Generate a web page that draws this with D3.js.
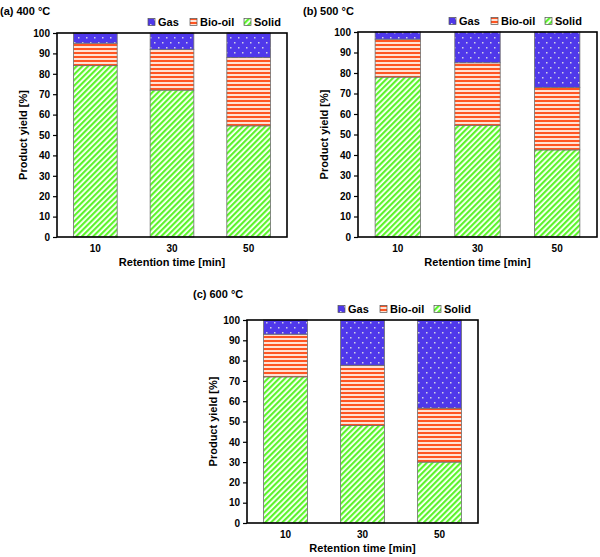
<!DOCTYPE html>
<html><head><meta charset="utf-8">
<script src="https://cdn.jsdelivr.net/npm/d3@7"></script>
<style>body{margin:0;background:#fff}svg{display:block}svg text{font-family:"Liberation Sans",Arial,sans-serif !important;font-weight:700 !important;fill:#000}</style>
</head><body>
<svg id="c" width="600" height="557"></svg>
<script>
const categories = ["10", "30", "50"];
const seriesNames = ["Solid", "Bio-oil", "Gas"];
const panelTitles = ["(a) 400 °C", "(b) 500 °C", "(c) 600 °C"];
// values per panel [Solid, Bio-oil, Gas] per retention time
const solid400 = [84, 72, 54.5];
const bio400 = [11, 20, 33.5];
const gas400 = [5, 8, 12.5];
const solid500 = [78, 54.5, 42.5];
const bio500 = [18.5, 30.5, 30.5];
const gas500 = [3.5, 15, 27];
const solid600 = [72, 48, 30];
const bio600 = [21, 29.7, 26.6];
const gas600 = [7, 22.3, 43.4];
const yTicks = [0,10,20,30,40,50,60,70,80,90,100];

const svg = d3.select("#c");
const defs = svg.append("defs");
const pS = defs.append("pattern").attr("id","pSolid").attr("patternUnits","userSpaceOnUse")
  .attr("width",4).attr("height",4).attr("patternTransform","rotate(45)");
pS.append("rect").attr("width",4).attr("height",4).attr("fill","#ffffff");
pS.append("rect").attr("width",2.2).attr("height",4).attr("fill","#5cf52a");
const pB = defs.append("pattern").attr("id","pBio").attr("patternUnits","userSpaceOnUse")
  .attr("width",4).attr("height",4);
pB.append("rect").attr("width",4).attr("height",4).attr("fill","#ffe2d4");
pB.append("rect").attr("width",4).attr("height",2).attr("fill","#ff5522");
const pG = defs.append("pattern").attr("id","pGas").attr("patternUnits","userSpaceOnUse")
  .attr("width",8).attr("height",10);
pG.append("rect").attr("width",8).attr("height",10).attr("fill","#4f38ea");
pG.append("rect").attr("x",2).attr("y",2).attr("width",1.5).attr("height",1.5).attr("fill","#d0d0e4");
pG.append("rect").attr("x",6).attr("y",7).attr("width",1.5).attr("height",1.5).attr("fill","#d0d0e4");
const fills = {"Solid":"url(#pSolid)","Bio-oil":"url(#pBio)","Gas":"url(#pGas)"};

const panels = [
  {title: panelTitles[0], tx: 0, ty: 15, x0: 57, x1: 287, y0: 33, y1: 237, data: [solid400, bio400, gas400]},
  {title: panelTitles[1], tx: 303, ty: 15, x0: 358, x1: 597, y0: 32, y1: 237, data: [solid500, bio500, gas500]},
  {title: panelTitles[2], tx: 193, ty: 298, x0: 247, x1: 478, y0: 320, y1: 523, data: [solid600, bio600, gas600]}
];

panels.forEach(p => {
  const g = svg.append("g");
  const x = d3.scaleBand().domain(categories).range([p.x0, p.x1]).paddingInner(0.43).paddingOuter(0.215);
  const y = d3.scaleLinear().domain([0,100]).range([p.y1, p.y0]);
  const rows = categories.map((c,i) => {
    const o = {cat: c};
    seriesNames.forEach((s,j) => o[s] = p.data[j][i]);
    return o;
  });
  const stack = d3.stack().keys(seriesNames)(rows);
  stack.forEach(layer => {
    g.append("g").selectAll("rect").data(layer).join("rect")
      .attr("x", d => x(d.data.cat))
      .attr("width", x.bandwidth())
      .attr("y", d => y(Math.min(d[1],100)))
      .attr("height", d => y(d[0]) - y(Math.min(d[1],100)))
      .attr("fill", fills[layer.key])
      .attr("stroke", "#6e6e6e").attr("stroke-width", 0.8);
  });
  g.append("rect").attr("x",p.x0).attr("y",p.y0).attr("width",p.x1-p.x0).attr("height",p.y1-p.y0)
    .attr("fill","none").attr("stroke","#000").attr("stroke-width",1.6);
  const ya = g.append("g").attr("transform",`translate(${p.x0},0)`)
    .call(d3.axisLeft(y).tickValues(yTicks).tickSize(4).tickPadding(3));
  ya.select(".domain").remove();
  ya.selectAll("line").attr("stroke","#000").attr("stroke-width",1.2);
  ya.selectAll("text").style("font-size","10px");
  const xa = g.append("g").attr("transform",`translate(0,${p.y1})`)
    .call(d3.axisBottom(x).tickSize(0).tickPadding(8));
  xa.select(".domain").remove();
  xa.selectAll("text").style("font-size","10px");
  g.append("text").attr("x",p.tx).attr("y",p.ty).style("font-size","11px").text(p.title);
  g.append("text").attr("x",(p.x0+p.x1)/2).attr("y",p.y1+29).attr("text-anchor","middle")
    .style("font-size","11px").text("Retention time [min]");
  g.append("text").attr("transform",`translate(${p.x0-30},${(p.y0+p.y1)/2}) rotate(-90)`)
    .attr("text-anchor","middle").style("font-size","11px").text("Product yield [%]");
  const leg = [["Gas",0],["Bio-oil",42],["Solid",96]];
  const lg = g.append("g").attr("transform",`translate(${p.x0+91},${p.y0-11})`);
  leg.forEach(([name,dx]) => {
    lg.append("rect").attr("x",dx).attr("y",-3.5).attr("width",7).attr("height",7)
      .attr("fill",fills[name]).attr("stroke","#555").attr("stroke-width",0.7);
    lg.append("text").attr("x",dx+10).attr("y",4).style("font-size","11px").text(name);
  });
});
</script>
</body></html>
